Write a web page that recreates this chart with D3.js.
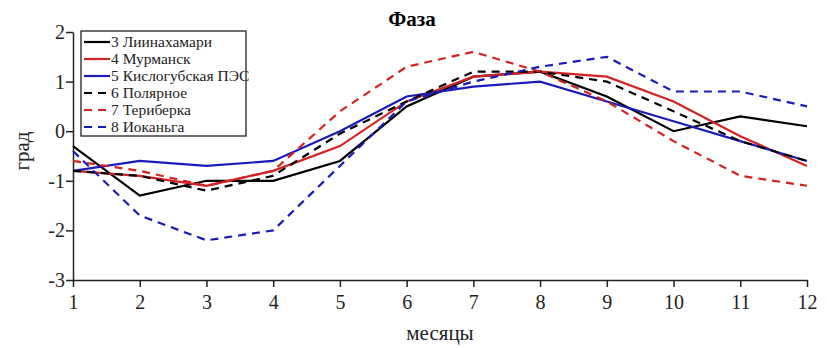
<!DOCTYPE html>
<html>
<head>
<meta charset="utf-8">
<script src="https://cdn.jsdelivr.net/npm/d3@7"></script>
<style>
  body { margin: 0; background: #fff; }
</style>
</head>
<body>
<div id="chart"></div>
<script>
var width = 827;
var height = 348;
var serif = "'Liberation Serif', 'Times New Roman', serif";

var months = [1, 2, 3, 4, 5, 6, 7, 8, 9, 10, 11, 12];
var yTicks = [-3, -2, -1, 0, 1, 2];

var names = ["3 Лиинахамари", "4 Мурманск", "5 Кислогубская ПЭС", "6 Полярное", "7 Териберка", "8 Иоканьга"];
var colors = ["#000000", "#d42222", "#1a1ab8", "#000000", "#d42222", "#1a1ab8"];
var dashed = [false, false, false, true, true, true];

var liinahamari = [-0.3, -1.3, -1.0, -1.0, -0.6, 0.5, 1.1, 1.2, 0.7, 0.0, 0.3, 0.1];
var murmansk    = [-0.8, -0.9, -1.1, -0.8, -0.3, 0.6, 1.1, 1.2, 1.1, 0.6, -0.1, -0.7];
var kislogubsk  = [-0.8, -0.6, -0.7, -0.6, 0.0, 0.7, 0.9, 1.0, 0.6, 0.2, -0.2, -0.6];
var polyarnoe   = [-0.8, -0.9, -1.2, -0.9, -0.05, 0.6, 1.2, 1.2, 1.0, 0.4, -0.2, -0.6];
var teriberka   = [-0.6, -0.8, -1.1, -0.8, 0.4, 1.3, 1.6, 1.2, 0.6, -0.2, -0.9, -1.1];
var iokanga     = [-0.4, -1.7, -2.2, -2.0, -0.7, 0.6, 1.0, 1.3, 1.5, 0.8, 0.8, 0.5];

var series = [liinahamari, murmansk, kislogubsk, polyarnoe, teriberka, iokanga];

var svg = d3.select("#chart").append("svg")
  .attr("width", width)
  .attr("height", height);

var x = d3.scaleLinear().domain([1, 12]).range([73, 807]);
var y = d3.scaleLinear().domain([-3, 2]).range([280, 32]);

// plain hyphen minus like the original figure
var fmt = function(d) { return String(d); };

// axes
var xAxis = svg.append("g")
  .attr("transform", "translate(0," + y(-3) + ")")
  .call(d3.axisBottom(x).tickValues(months).tickSize(7).tickSizeOuter(0).tickFormat(fmt));

var yAxis = svg.append("g")
  .attr("transform", "translate(" + x(1) + ",0)")
  .call(d3.axisLeft(y).tickValues(yTicks).tickSize(7).tickSizeOuter(0).tickFormat(fmt));

[xAxis, yAxis].forEach(function(g) {
  g.attr("font-family", serif).attr("font-size", 20);
  g.select(".domain").attr("stroke", "#222").attr("stroke-width", 1.5);
  g.selectAll(".tick line").attr("stroke", "#222").attr("stroke-width", 1.5);
  g.selectAll(".tick text")
    .style("font-family", serif)
    .style("font-size", "20px")
    .attr("fill", "#222");
});
xAxis.selectAll(".tick text").attr("dy", "0.95em");
yAxis.selectAll(".tick text").attr("x", -8);

// lines
var line = d3.line()
  .x(function(d, i) { return x(months[i]); })
  .y(function(d) { return y(d); });

series.forEach(function(s, i) {
  svg.append("path")
    .datum(s)
    .attr("d", line)
    .attr("fill", "none")
    .attr("stroke", colors[i])
    .attr("stroke-width", 2.2)
    .attr("stroke-dasharray", dashed[i] ? "8,6" : null);
});

// title & labels
svg.append("text")
  .attr("x", 412)
  .attr("y", 26)
  .attr("text-anchor", "middle")
  .style("font-family", serif)
  .style("font-size", "21px")
  .style("font-weight", "bold")
  .text("Фаза");

svg.append("text")
  .attr("x", 440)
  .attr("y", 340)
  .attr("text-anchor", "middle")
  .style("font-family", serif)
  .style("font-size", "21px")
  .attr("fill", "#222")
  .text("месяцы");

svg.append("text")
  .attr("transform", "translate(29," + y(-0.4) + ") rotate(-90)")
  .attr("text-anchor", "middle")
  .style("font-family", serif)
  .style("font-size", "21px")
  .attr("fill", "#222")
  .text("град");

// legend
var legend = svg.append("g").attr("transform", "translate(81,31)");
legend.append("rect")
  .attr("width", 165)
  .attr("height", 105)
  .attr("fill", "#fff")
  .attr("stroke", "#222")
  .attr("stroke-width", 1.3);

names.forEach(function(n, i) {
  var ly = 11 + i * 17;
  legend.append("line")
    .attr("x1", 3).attr("x2", 29)
    .attr("y1", ly).attr("y2", ly)
    .attr("stroke", colors[i])
    .attr("stroke-width", 2.2)
    .attr("stroke-dasharray", dashed[i] ? "8,6" : null);
  legend.append("text")
    .attr("x", 30)
    .attr("y", ly + 5)
    .style("font-family", serif)
    .style("font-size", "15.5px")
    .attr("fill", "#222")
    .text(n);
});
</script>
</body>
</html>
